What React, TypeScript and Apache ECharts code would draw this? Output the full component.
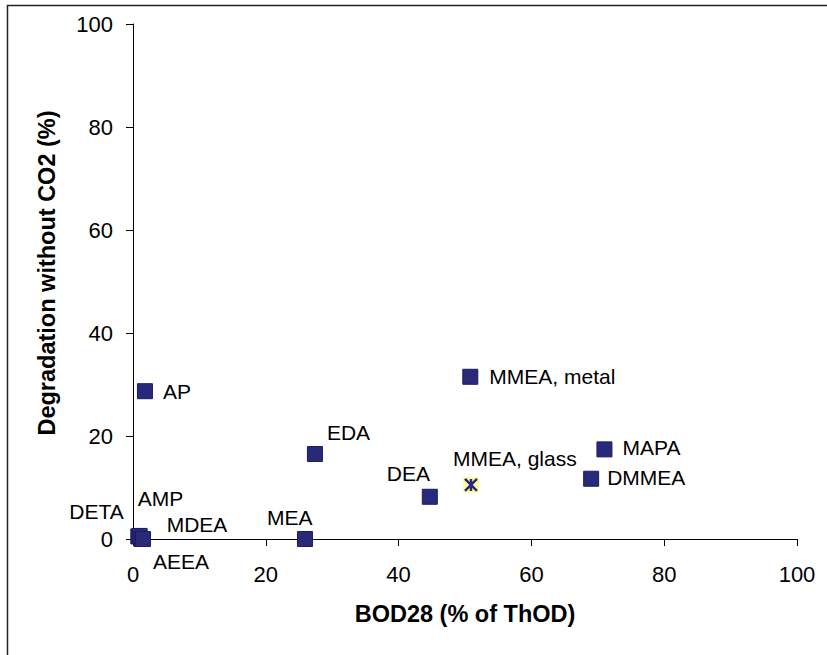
import React, { useEffect, useRef } from "react";
import * as echarts from "echarts";

// Data
const names = ["AP", "EDA", "MMEA, metal", "DEA", "MAPA", "DMMEA", "MEA", "DETA", "AMP", "MDEA", "AEEA"];
const bod28 = [1.8, 27.4, 50.8, 44.7, 71.0, 69.0, 25.9, 0.8, 1.0, 1.3, 1.5];
const degradation = [28.7, 16.5, 31.5, 8.2, 17.4, 11.7, 0, 0.5, 0.6, 0, 0];

const glassName = "MMEA, glass";
const glassBod = [50.9];
const glassDeg = [10.5];

const xTicks = [0, 20, 40, 60, 80, 100];

// label placements (text left edge and vertical centre relative to the marker centre, in px)
const labelOffsets: Record<string, [number, number]> = {
  AP: [18, 0],
  EDA: [12, -22],
  "MMEA, metal": [19, 0],
  DEA: [-43, -23],
  MAPA: [18, -2],
  DMMEA: [16, -1],
  MEA: [-38, -22],
  DETA: [-69, -25],
  AMP: [-2, -37],
  MDEA: [25, -15],
  AEEA: [10, 22],
  "MMEA, glass": [-18, -26],
};

const NAVY = "#292979";
const FONT = "'Liberation Sans', Arial, Helvetica, sans-serif";

export default function App() {
  const ref = useRef<HTMLDivElement>(null);
  useEffect(() => {
    if (!ref.current) return;
    const chart = echarts.init(ref.current, null, { renderer: "svg" });
    const mkLabel = (n: string) => ({
      show: true,
      position: "inside",
      align: "left",
      verticalAlign: "middle",
      offset: labelOffsets[n],
      formatter: n,
      color: "#000",
      fontSize: 21,
      fontFamily: FONT,
    });
    const axisCommon = {
      type: "value",
      min: 0,
      max: 100,
      interval: 20,
      axisLine: { show: true, lineStyle: { color: "#000", width: 1 } },
      axisTick: { show: true, inside: false, length: 7, lineStyle: { color: "#000" } },
      splitLine: { show: false },
    };
    chart.setOption({
      animation: false,
      backgroundColor: "#fff",
      textStyle: { fontFamily: FONT },
      grid: { left: 133, right: 30, top: 24, bottom: 116, containLabel: false },
      xAxis: {
        ...axisCommon,
        axisLabel: {
          color: "#000",
          fontSize: 22,
          fontFamily: FONT,
          margin: 24,
          formatter: (v: number) => (xTicks.includes(v) ? String(v) : ""),
        },
        name: "BOD28 (% of ThOD)",
        nameLocation: "middle",
        nameGap: 63,
        nameTextStyle: { color: "#000", fontSize: 23.5, fontWeight: "bold", fontFamily: FONT },
      },
      yAxis: {
        ...axisCommon,
        axisLabel: { color: "#000", fontSize: 22, fontFamily: FONT, margin: 20 },
      },
      graphic: [
        {
          type: "rect",
          silent: true,
          shape: { x: 7.5, y: 5.5, width: 900, height: 900 },
          style: { fill: "none", stroke: "#222", lineWidth: 1.5 },
        },
        {
          type: "text",
          x: 47,
          y: 273,
          rotation: Math.PI / 2,
          style: {
            text: "Degradation without CO2 (%)",
            fontSize: 23.5,
            fontWeight: "bold",
            fontFamily: FONT,
            fill: "#000",
            align: "center",
            verticalAlign: "middle",
          },
        },
      ],
      series: [
        {
          type: "scatter",
          symbol: "rect",
          symbolSize: 15,
          itemStyle: { color: NAVY, borderColor: "#1c1c60", borderWidth: 1, opacity: 1 },
          data: names.map((n, i) => ({
            name: n,
            value: [bod28[i], degradation[i]],
            label: mkLabel(n),
          })),
          z: 3,
        },
        {
          type: "scatter",
          symbol: "rect",
          symbolSize: 16,
          itemStyle: { color: "#FFFFA0", opacity: 1 },
          data: glassBod.map((x, i) => ({
            name: glassName,
            value: [x, glassDeg[i]],
            label: mkLabel(glassName),
          })),
          z: 3,
        },
        {
          type: "scatter",
          symbol: "path://M0 0 L10 10 M10 0 L0 10 M5 0 L5 10",
          symbolSize: 12,
          itemStyle: { color: "none", borderColor: NAVY, borderWidth: 2.5, opacity: 1 },
          data: glassBod.map((x, i) => ({ name: glassName, value: [x, glassDeg[i]] })),
          z: 4,
        },
      ],
    });
    return () => chart.dispose();
  }, []);
  return (
    <div
      ref={ref}
      style={{ position: "fixed", left: 0, top: 0, width: 827, height: 655 }}
    />
  );
}
